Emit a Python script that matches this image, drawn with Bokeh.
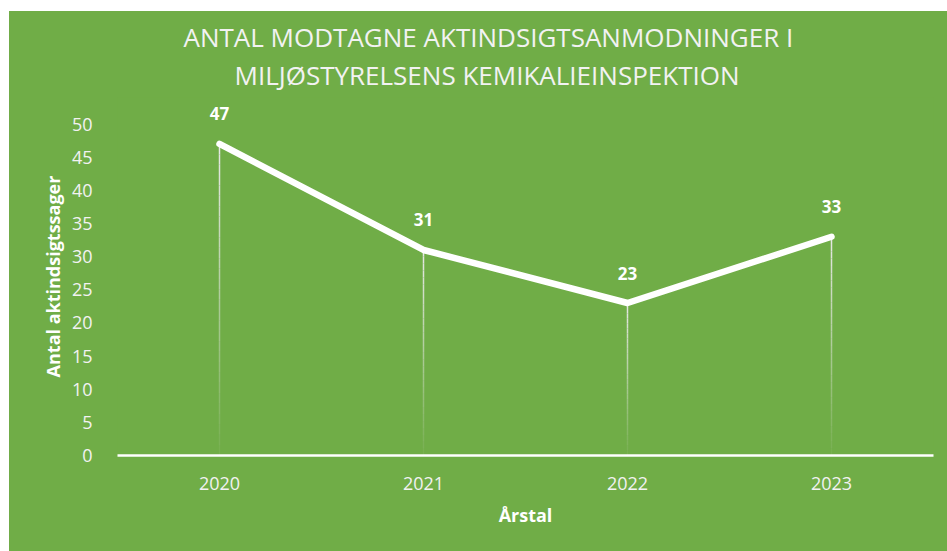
from bokeh.plotting import figure
from bokeh.models import Title, FactorRange, Range1d, ColumnDataSource, LabelSet, FixedTicker
from bokeh.core.properties import value
from bokeh.embed import file_html
from bokeh.resources import INLINE

# ---- data ----
years = ["2020", "2021", "2022", "2023"]
counts = [47, 31, 23, 33]
y_ticks = [0, 5, 10, 15, 20, 25, 30, 35, 40, 45, 50]
title_lines = ["ANTAL MODTAGNE AKTINDSIGTSANMODNINGER I",
               "MILJØSTYRELSENS KEMIKALIEINSPEKTION"]
x_title = "Årstal"
y_title = "Antal aktindsigtssager"

GREEN = "#70AD47"
FONT = "Open Sans"
LIGHT = "#F2F2F2"

p = figure(width=938, height=540,
           x_range=FactorRange(*years),
           y_range=Range1d(0, 54),
           title=title_lines[0],
           output_backend="svg", toolbar_location=None,
           min_border_left=108, min_border_right=14,
           min_border_top=86, min_border_bottom=96)
p.margin = (11, 0, 0, 9)
p.styles = {"background-color": GREEN}
p.background_fill_color = GREEN
p.border_fill_color = GREEN
p.outline_line_color = None
p.xgrid.visible = False
p.ygrid.visible = False

# titles
p.title.align = "left"
p.title.offset = 66
p.title.standoff = -8
p.title.text_font = FONT
p.title.text_font_size = "26px"
p.title.text_font_style = "normal"
p.title.text_color = LIGHT
sub = Title(text=title_lines[1], align="left", offset=117, standoff=9,
            text_font=FONT, text_font_size="26px", text_font_style="normal",
            text_color=LIGHT)
p.add_layout(sub, "above")

# drop lines (fading towards the axis)
n = 30
sx, sy0, sy1, sa = [], [], [], []
for yr, c in zip(years, counts):
    for k in range(n):
        sx.append(yr)
        sy0.append(c * (1 - k / n))
        sy1.append(c * (1 - (k + 1) / n))
        sa.append(0.95 * (1 - k / n) + 0.03)
drop = ColumnDataSource(dict(x=sx, y0=sy0, y1=sy1, a=sa))
p.segment(x0="x", y0="y0", x1="x", y1="y1", source=drop,
          line_color="#E8E8E8", line_alpha="a", line_width=1.5)

# main line
src = ColumnDataSource(dict(x=years, y=counts, lab=[str(c) for c in counts]))
p.line(x="x", y="y", source=src, line_color="white", line_width=6.5,
       line_join="round", line_cap="round")

labels = LabelSet(x="x", y="y", text="lab", source=src, y_offset=30,
                  text_align="center", text_baseline="middle",
                  text_font=value(FONT), text_font_style="bold",
                  text_font_size="17px", text_color="white")
p.add_layout(labels)

# axes
ya = p.yaxis[0]
ya.ticker = FixedTicker(ticks=y_ticks)
ya.axis_line_color = None
ya.major_tick_line_color = None
ya.minor_tick_line_color = None
ya.major_label_standoff = 19
ya.major_label_text_font = FONT
ya.major_label_text_font_size = "18px"
ya.major_label_text_color = LIGHT
ya.axis_label = y_title
ya.axis_label_text_font = FONT
ya.axis_label_text_font_style = "bold"
ya.axis_label_text_font_size = "18px"
ya.axis_label_text_color = "white"
ya.axis_label_standoff = 4

xa = p.xaxis[0]
xa.axis_line_color = "white"
xa.axis_line_width = 2.5
xa.major_tick_line_color = None
xa.minor_tick_line_color = None
xa.major_label_standoff = 15
xa.major_label_text_font = FONT
xa.major_label_text_font_size = "18px"
xa.major_label_text_color = LIGHT
xa.axis_label = x_title
xa.axis_label_text_font = FONT
xa.axis_label_text_font_style = "bold"
xa.axis_label_text_font_size = "18px"
xa.axis_label_text_color = "white"
xa.axis_label_standoff = 10

open("out.html", "w").write(file_html(p, INLINE))
